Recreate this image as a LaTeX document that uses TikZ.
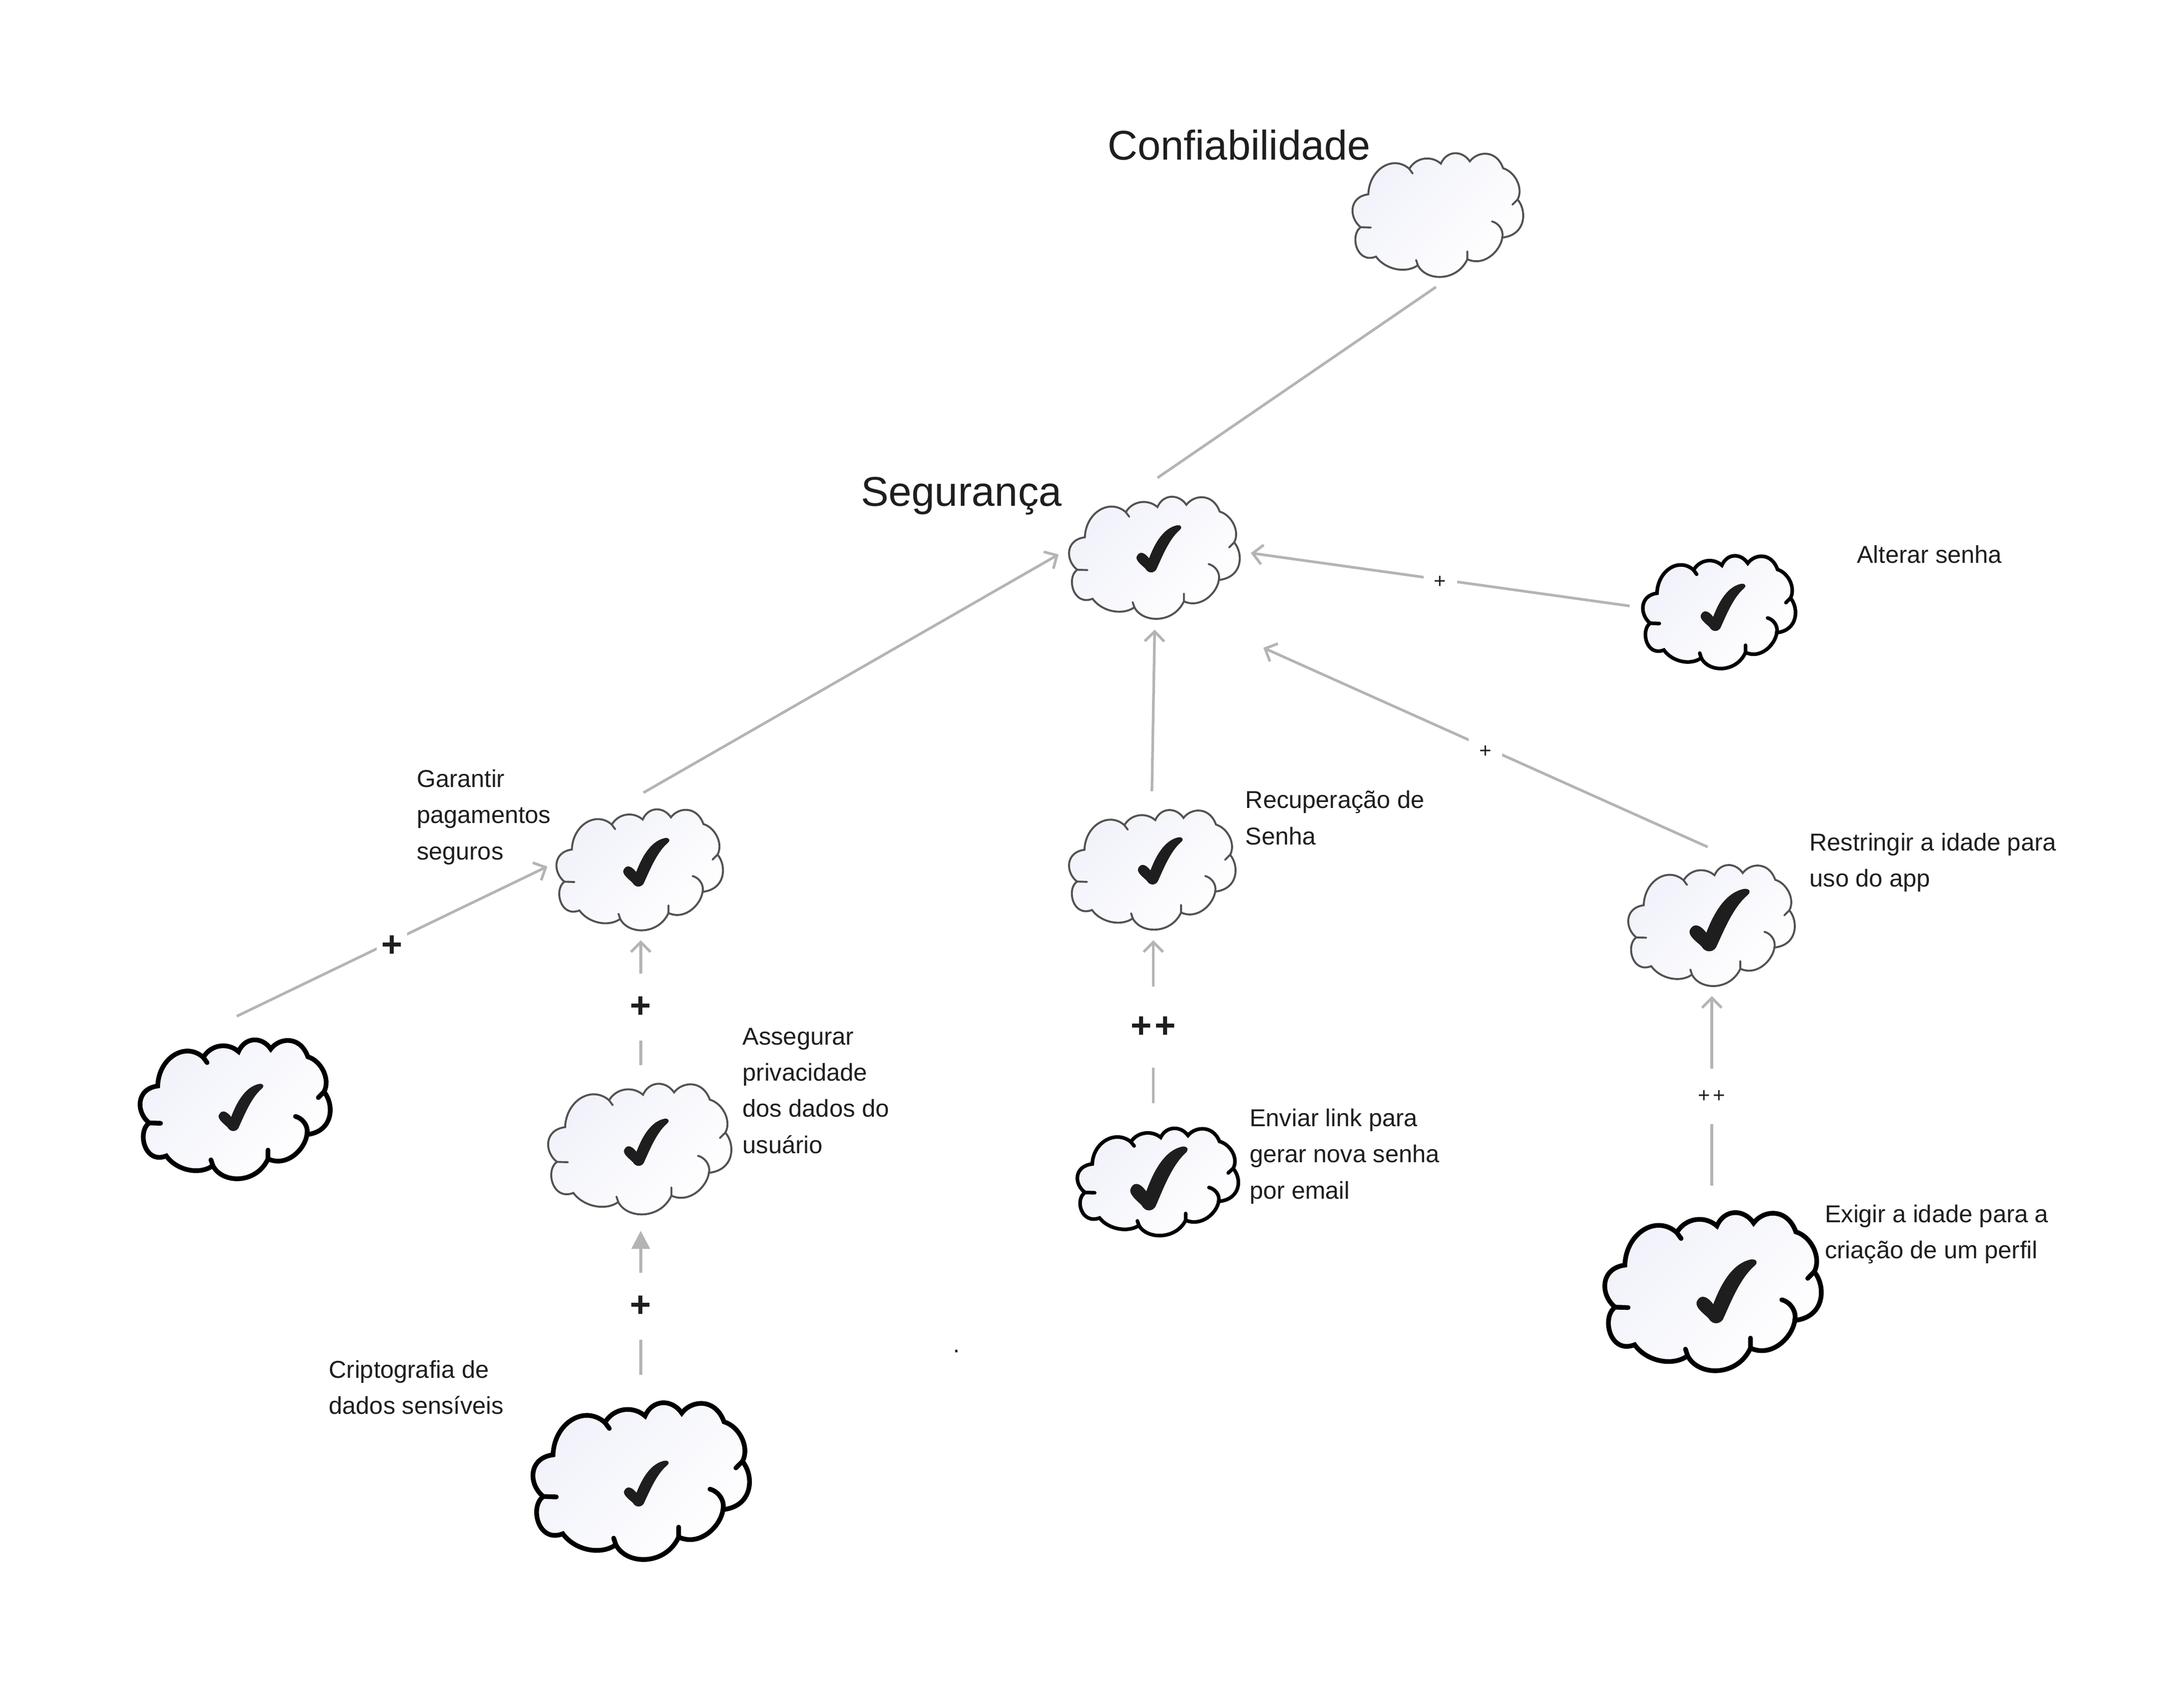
\documentclass[tikz,border=0pt]{standalone}
\usepackage{fontspec}
\setmainfont{Liberation Sans}
\usetikzlibrary{arrows.meta}

\definecolor{linkgray}{HTML}{B4B4B4}
\definecolor{inkdark}{HTML}{1E1E1E}
\definecolor{cloudtint}{HTML}{F1F2FA}
\definecolor{cloudmid}{HTML}{FCFCFE}

\newcommand{\cloudoutline}{
    (-.807,-.345) .. controls (-.797,-.746) and (-.518,-.981) .. (-.329,-.751)
    .. controls (-.249,-.939) and (-.070,-.967) .. (.040,-.834)
    .. controls (.110,-1.050) and (.289,-1.050) .. (.378,-.870)
    .. controls (.468,-1.036) and (.687,-1.064) .. (.767,-.760)
    .. controls (.906,-.704) and (1.006,-.442) .. (.936,-.262)
    .. controls (1.046,-.083) and (1.036,.304) .. (.757,.345)
    .. controls (.737,.552) and (.548,.815) .. (.349,.691)
    .. controls (.229,1.050) and (-.129,1.050) .. (-.229,.787)
    .. controls (-.369,.925) and (-.608,.856) .. (-.717,.649)
    .. controls (-.946,.773) and (-1.026,.304) .. (-.896,.180)
    .. controls (-1.036,.028) and (-1.036,-.304) .. (-.807,-.345) -- cycle
}
\newcommand{\softgoal}[5]{% name, centre, half width, half height, line style
    \node[cloudbox, minimum width=2*#3pt, minimum height=2*#4pt] (#1) at (#2) {};
    \begin{scope}[shift={(#2)}, xscale=#3, yscale=#4]
        \draw[#5, cloudfill] \cloudoutline;
        \draw[#5, line cap=round]
        (.637,.088) .. controls (.707,.110) and (.777,.221) .. (.757,.345)
        (-.329,-.751) -- (-.289,-.677)
        (-.896,.180) -- (-.777,.185)
        (.936,-.262) -- (.876,-.180)
        (-.229,.787) -- (-.249,.704)
        (.349,.691) -- (.349,.566);
    \end{scope}
}
\newcommand{\softcheck}[3]{% centre, width, height
    \fill[inkdark, shift={(#1)}, xscale=#2, yscale=#3]
    (-.5,.17) .. controls (-.46,.07) and (-.36,.03) .. (-.22,.20)
    .. controls (-.08,-.15) and (.12,-.45) .. (.42,-.5)
    .. controls (.52,-.5) and (.52,-.44) .. (.47,-.40)
    .. controls (.22,-.2) and (.06,.2) .. (-.06,.44)
    .. controls (-.12,.52) and (-.24,.52) .. (-.3,.42)
    .. controls (-.36,.36) and (-.52,.26) .. (-.5,.17) -- cycle;
}

\tikzset{
    cloudbox/.style={inner sep=0, outer sep=0},
    cloudfill/.style={shading=axis, top color=cloudtint, middle color=cloudmid, bottom color=white, shading angle=45},
    thinline/.style={draw=black!68, line width=1.4pt},
    midline/.style={draw=black, line width=2.6pt},
    thickline/.style={draw=black, line width=3.4pt},
    link/.style={draw=linkgray, line width=1.9pt},
    opentip/.style={link, -{Straight Barb[length=7pt, width=14pt, line width=1.9pt]}},
    filledtip/.style={link, -{Triangle[length=13pt, width=13pt]}},
    goaltext/.style={anchor=west, align=left, text=inkdark, inner sep=0, font=\fontsize{17.5}{26}\selectfont},
    titletext/.style={anchor=west, text=inkdark, inner sep=0, font=\fontsize{29.8}{36}\selectfont},
    signbig/.style={fill=white, text=inkdark, inner sep=0, yshift=-1.5pt, minimum width=22pt, minimum height=48pt, font=\fontsize{26}{26}\selectfont\bfseries},
    signsmall/.style={fill=white, text=inkdark, inner sep=0, yshift=-2pt, minimum width=24pt, minimum height=24pt, font=\fontsize{15}{15}\selectfont},
}

\begin{document}
\begin{tikzpicture}[x=1pt, y=-1pt]
    \fill[white] (0,0) rectangle (1568,1218.6);

    % clouds
    \softgoal{conf}{1032,155}{61.5}{45}{thinline}
    \softgoal{seg}{828.5,401}{61.5}{44.4}{thinline}
    \softgoal{alterar}{1234,440}{55}{41}{midline}
    \softgoal{garantir}{459,625}{60}{44}{thinline}
    \softgoal{recup}{827,625}{60}{43.5}{thinline}
    \softgoal{restr}{1228.5,665}{60}{44}{thinline}
    \softgoal{solto}{168.5,797}{68.5}{50.5}{thickline}
    \softgoal{asseg}{459,825.5}{66}{47.5}{thinline}
    \softgoal{cripto}{460,1064}{78}{57}{thickline}
    \softgoal{enviar}{831,849}{58}{39}{midline}
    \softgoal{exigir}{1229.5,928}{78}{57.5}{thickline}

    % checks
    \softcheck{832,394}{32}{34}
    \softcheck{1237,436}{32}{34}
    \softcheck{464,619}{33}{35}
    \softcheck{833,618}{32}{34}
    \softcheck{1234.5,660.5}{43}{45}
    \softcheck{173,795}{32}{34}
    \softcheck{464,820}{32}{34}
    \softcheck{464,1065}{32}{33}
    \softcheck{832,846}{41}{46}
    \softcheck{1239.5,927}{43}{46}

    % connectors
    \draw[link] ([shift={(-1,6)}]conf.south) -- ([shift={(2.5,-13.6)}]seg.north);
    \draw[opentip] ([shift={(-9,-5)}]alterar.west) -- node[signsmall] (sinalA) {+} ([shift={(8,-4)}]seg.east);
    \draw[opentip] ([shift={(-2.5,-13)}]restr.north) -- node[signsmall, yshift=-1pt] (sinalB) {+} ([shift={(17,19.6)}]seg.south east);
    \draw[opentip] ([shift={(0,-13.5)}]recup.north) -- ([shift={(.5,6.6)}]seg.south);
    \draw[opentip] ([shift={(3,-12)}]garantir.north) -- ([shift={(-7,-3)}]seg.west);
    \draw[opentip] ([shift={(1.5,-17)}]solto.north) -- node[signbig, yshift=-2pt, minimum height=30pt] (sinalC) {+} ([shift={(-6,-3)}]garantir.west);
    \draw[opentip] ([shift={(1,-13.5)}]asseg.north) -- node[signbig, pos=.48] (sinalD) {+} ([shift={(1,6)}]garantir.south);
    \draw[filledtip] ([shift={(0,-20)}]cripto.north) -- node[signbig, pos=.49] (sinalE) {+} ([shift={(1,10.5)}]asseg.south);
    \draw[opentip] ([shift={(-3,-18)}]enviar.north) -- node[signbig, pos=.48, minimum height=58pt] (sinalF) {+\kern2pt+} ([shift={(1,6.5)}]recup.south);
    \draw[opentip] ([shift={(-.5,-19.5)}]exigir.north) -- node[signsmall, pos=.485, minimum height=40pt] (sinalG) {+\kern2pt+} ([shift={(.5,6)}]restr.south);

    % labels
    \node[titletext] (tituloConf) at (795,104) {Confiabilidade};
    \node[titletext] (tituloSeg) at (618,356) {Segurança};
    \node[goaltext] (txtAlterar) at (1333,398) {Alterar senha};
    \node[goaltext] (txtGarantir) at (299,586.5) {Garantir\\pagamentos\\seguros};
    \node[goaltext] (txtRecup) at (894,587) {Recuperação de\\Senha};
    \node[goaltext] (txtRestr) at (1299,619) {Restringir a idade para\\uso do app};
    \node[goaltext] (txtAsseg) at (533,783) {Assegurar\\privacidade\\dos dados do\\usuário};
    \node[goaltext] (txtEnviar) at (897,830) {Enviar link para\\gerar nova senha\\por email};
    \node[goaltext] (txtExigir) at (1310,886) {Exigir a idade para a\\criação de um perfil};
    \node[goaltext] (txtCripto) at (236,996) {Criptografia de\\dados sensíveis};
    \node[goaltext] (ponto) at (684,970) {.};
\end{tikzpicture}
\end{document}
